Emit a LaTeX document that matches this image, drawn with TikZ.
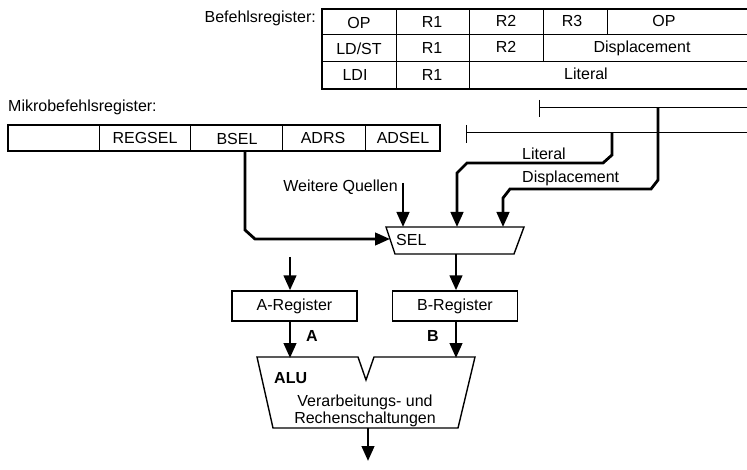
\documentclass[tikz,border=0pt]{standalone}
\usepackage{fontspec}
\setmainfont{Liberation Sans}
\usetikzlibrary{arrows.meta}
\begin{document}
\begin{tikzpicture}[x=1pt,y=-1pt,
  txt/.style={inner sep=0pt,font=\fontsize{16}{18}\selectfont},
  boldtxt/.style={txt,font=\fontsize{16}{18}\selectfont\bfseries},
  thinline/.style={line width=1pt},
  frame/.style={line width=1.8pt},
  bus/.style={line width=2.8pt,line join=miter},
  flow/.style={bus,-{Triangle[length=15pt,width=12.5pt]}},
  regbox/.style={draw,line width=1.4pt,minimum width=125pt,minimum height=30pt,inner sep=0pt,txt}]
\useasboundingbox (0,0) rectangle (747,470);

% ---------- instruction register (three formats) ----------
\node[txt,anchor=east] (breg) at (316,18) {Befehlsregister:};
\draw[thinline] (322,35) -- (747,35) (322,62) -- (747,62);
\draw[thinline] (396,9) -- (396,89) (469,9) -- (469,89)
  (543,9) -- (543,62) (607,9) -- (607,35);
\draw[frame] (747,9) -- (322,9) -- (322,89) -- (747,89);
\node[txt] (f1op)  at (359,23) {OP};
\node[txt] (f1r1)  at (432,22) {R1};
\node[txt] (f1r2)  at (506,21) {R2};
\node[txt] (f1r3)  at (572,21) {R3};
\node[txt] (f1op2) at (664,21) {OP};
\node[txt] (f2op)  at (359,49) {LD/ST};
\node[txt] (f2r1)  at (432,48) {R1};
\node[txt] (f2r2)  at (506,47) {R2};
\node[txt] (f2dsp) at (642,48) {Displacement};
\node[txt] (f3op)  at (355,75) {LDI};
\node[txt] (f3r1)  at (432,75) {R1};
\node[txt] (f3lit) at (586,74) {Literal};

% ---------- field buses ----------
\coordinate (dspbus) at (539,108);
\coordinate (litbus) at (466,133);
\draw[thinline] (539,100) -- (539,117) (dspbus) -- (747,108);
\draw[thinline] (466,125) -- (466,143) (litbus) -- (747,133);

% ---------- microinstruction register ----------
\node[txt,anchor=west] (mreg) at (8,107) {Mikrobefehlsregister:};
\draw[thinline] (99,125) -- (99,151) (190,125) -- (190,151)
  (282,125) -- (282,151) (365,125) -- (365,151);
\draw[frame] (8,125) rectangle (440,151);
\node[txt] (regsel) at (145,138) {REGSEL};
\node[txt] (bsel)   at (237,139) {BSEL};
\node[txt] (adrs)   at (323,138) {ADRS};
\node[txt] (adsel)  at (403,138) {ADSEL};

% ---------- selector ----------
\coordinate (selTL) at (386,227);
\coordinate (selTR) at (524,227);
\coordinate (selBR) at (514,254);
\coordinate (selBL) at (395,254);
\draw[line width=1.4pt,line join=miter] (selTL) -- (selTR) -- (selBR) -- (selBL) -- cycle;
\node[txt,anchor=west] (sel) at (396,240) {SEL};

\coordinate (wq) at (403,183);
\node[txt,anchor=east] (wqtxt) at (398,187) {Weitere Quellen};
\draw[flow] (wq) -- (403,227);

\node[txt,anchor=west] (littxt) at (522,154) {Literal};
\node[txt,anchor=west] (dsptxt) at (522,178) {Displacement};
\draw[flow] (612,133) -- (612,155) -- (603,163) -- (467,163) -- (457,173) -- (457,227);
\draw[flow] (658,108) -- (658,180) -- (651,189) -- (510,189) -- (503,198) -- (503,227);

\draw[flow] (245,151) -- (245,230) -- (255,239) -- (390,239);

% ---------- operand registers ----------
\node[regbox] (areg) at (294.5,306) {A-Register};
\node[regbox] (bregb) at (455,306) {B-Register};
\coordinate (ain) at (290,257);
\draw[flow] (ain) -- (areg.north -| ain);
\draw[flow] (456,254) -- (bregb.north -| 456,0);

% ---------- ALU ----------
\draw[line width=1.4pt,line join=miter] (257,357) -- (358,357) -- (366,380) -- (374,357)
  -- (475,357) -- (458,428) -- (273,428) -- cycle;
\node[boldtxt,anchor=west] (alu) at (274,378) {ALU};
\node[txt,align=center,font=\fontsize{16}{17}\selectfont] (alutxt) at (365,411)
  {Verarbeitungs- und\\Rechenschaltungen};
\draw[flow] (areg.south -| ain) -- (290,358);
\draw[flow] (bregb.south -| 456,0) -- (456,358);
\node[boldtxt] (alab) at (312,336) {A};
\node[boldtxt] (blab) at (433,336) {B};
\draw[flow] (368,428) -- (368,461);
\end{tikzpicture}
\end{document}
